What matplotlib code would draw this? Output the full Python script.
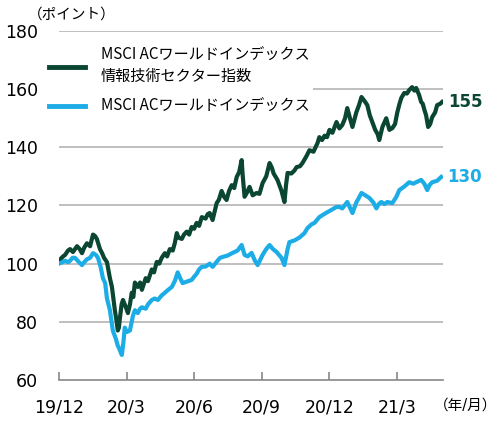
import matplotlib
matplotlib.use("Agg")
import matplotlib.pyplot as plt

plt.rcParams['font.family'] = ['DejaVu Sans', 'Noto Sans CJK JP']

# months since 2019/12 (x) and index values
it_months = [0.0, 0.18, 0.27, 0.40, 0.49, 0.62, 0.80, 0.92, 1.02, 1.12, 1.24, 1.38,
             1.51, 1.60, 1.68, 1.82, 1.92, 2.0, 2.13, 2.26, 2.35, 2.48, 2.56, 2.61,
             2.66, 2.70, 2.78, 2.84, 2.97, 3.06, 3.15, 3.23, 3.30, 3.37, 3.50, 3.60,
             3.68, 3.85, 3.95, 4.12, 4.22, 4.34, 4.45, 4.56, 4.70, 4.80, 4.92, 5.05,
             5.14, 5.23, 5.30, 5.45, 5.55, 5.67, 5.78, 5.89, 6.00, 6.11, 6.22, 6.34,
             6.51, 6.60, 6.69, 6.82, 7.00, 7.10, 7.22, 7.33, 7.44, 7.55, 7.67, 7.78,
             7.89, 8.00, 8.11, 8.16, 8.24, 8.35, 8.46, 8.60, 8.77, 8.90, 9.04, 9.20,
             9.35, 9.45, 9.53, 9.70, 9.88, 10.01, 10.08, 10.15, 10.32, 10.45, 10.55,
             10.70, 10.81, 10.99, 11.12, 11.30, 11.48, 11.56, 11.68, 11.79, 11.90,
             12.01, 12.14, 12.32, 12.45, 12.58, 12.70, 12.80, 12.92, 13.03, 13.20,
             13.32, 13.43, 13.56, 13.69, 13.80, 13.91, 14.04, 14.15, 14.22, 14.36,
             14.53, 14.67, 14.80, 14.92, 15.02, 15.12, 15.20, 15.33, 15.45, 15.55,
             15.68, 15.78, 15.86, 15.99, 16.08, 16.15, 16.22, 16.30, 16.39, 16.48,
             16.57, 16.70, 16.79, 16.93, 17.01]
it_values = [101, 102.5, 103, 104.5, 105, 104, 106, 105, 103.6, 105.5, 107, 106,
             110, 109.5, 108.5, 105, 103.5, 102, 100.5, 95, 92, 84, 80, 77,
             78, 81, 86, 87.5, 85, 83, 86, 90, 88.5, 93.5, 92, 93.5,
             91, 95, 94, 98, 97, 100.6, 100, 102, 103.6, 102.5, 105, 104.5,
             107, 110.5, 109, 108.5, 110, 111, 110, 112.6, 112, 114, 113, 116,
             115.5, 117, 117.4, 115, 120.8, 122, 125, 123, 121.9, 125, 127, 126,
             129.8, 131.5, 135.6, 130, 123, 124.5, 126.4, 123.5, 124.3, 124, 127.7, 130,
             134.6, 133, 131, 128.8, 125, 121.2, 127, 131.2, 131, 132, 133.2,
             133.5, 134.6, 137, 139, 138.5, 141.5, 143.5, 142.5, 144, 143.5,
             146, 145, 148.7, 146.5, 147.7, 150, 153.5, 150, 147, 152,
             154.5, 157.3, 156, 154.5, 151, 148.7, 146, 144.5, 142.5, 147,
             150, 146, 146.6, 148, 152, 155, 157, 158.7, 158.5, 159.7,
             160.7, 159.5, 160.4, 158, 155.6, 155, 153, 151, 147, 148,
             150.4, 152, 154.5, 155, 155.6]

acwi_months = [0.0, 0.15, 0.27, 0.40, 0.49, 0.60, 0.71, 0.89, 1.02, 1.12, 1.24, 1.38,
               1.51, 1.64, 1.73, 1.85, 1.95, 2.05, 2.13, 2.26, 2.39, 2.53, 2.60, 2.66,
               2.79, 2.86, 2.92, 3.01, 3.15, 3.28, 3.37, 3.50, 3.60, 3.68, 3.85, 3.95,
               4.12, 4.25, 4.39, 4.55, 4.70, 4.85, 5.01, 5.14, 5.27, 5.38, 5.49, 5.67,
               5.89, 6.00, 6.11, 6.22, 6.34, 6.51, 6.69, 6.82, 7.04, 7.15, 7.27, 7.49,
               7.71, 7.93, 8.02, 8.11, 8.24, 8.38, 8.55, 8.70, 8.82, 9.04, 9.20, 9.35,
               9.50, 9.66, 9.88, 10.01, 10.15, 10.23, 10.46, 10.68, 10.90, 11.03,
               11.21, 11.34, 11.56, 11.70, 11.87, 12.10, 12.32, 12.45, 12.58, 12.80,
               13.03, 13.20, 13.43, 13.60, 13.78, 13.96, 14.09, 14.20, 14.31, 14.45,
               14.58, 14.80, 14.98, 15.11, 15.33, 15.55, 15.73, 15.86, 16.08, 16.22,
               16.35, 16.45, 16.57, 16.79, 16.97]
acwi_values = [100, 100.5, 101, 100.5, 101, 102, 102, 100.5, 99.5, 100.5, 101.5, 102,
               103.6, 103, 102, 98.8, 95, 93.3, 88, 84, 77, 74, 72, 71,
               68.6, 73, 78, 76.5, 77, 82, 84, 83, 84.5, 85, 84.5, 86,
               87.5, 88, 87.5, 89, 90, 91, 92, 94, 97, 95, 93.3, 93.8,
               94.4, 95.5, 96.5, 98, 98.9, 99, 100, 98.9, 101, 102, 102.3, 102.8,
               103.7, 104.5, 105.5, 106.4, 103, 102.5, 103.7, 101, 99.5, 103, 105, 106.4,
               105, 104, 102, 99.5, 105, 107.4, 108, 109, 110.5, 112.2,
               113.5, 114, 116, 116.7, 117.5, 118.5, 119.5, 119.5, 119, 121.2,
               117.4, 121, 124.3, 123.5, 122.6, 121, 119, 120.5, 121.2, 120.5,
               121.2, 120.8, 123, 125.3, 126.5, 128, 127.5, 128, 128.8, 127.5,
               125.3, 127, 128, 128.5, 129.8]

tick_pos = [0, 3, 6, 9, 12, 15]
tick_labels = ['19/12', '20/3', '20/6', '20/9', '20/12', '21/3']
y_ticks = [60, 80, 100, 120, 140, 160, 180]

it_name = 'MSCI ACワールドインデックス\n情報技術セクター指数'
acwi_name = 'MSCI ACワールドインデックス'
dark = '#0a4631'
light = '#1cace6'

fig = plt.figure(figsize=(5, 4.25), dpi=100)
ax = fig.add_axes([0.118, 0.106, 0.768, 0.821])

for y in y_ticks[1:]:
    ax.axhline(y, color='#b4b4b4', lw=1.2, zorder=1)

l1, = ax.plot(it_months, it_values, color=dark, lw=3.0, zorder=3, solid_joinstyle='round')
l2, = ax.plot(acwi_months, acwi_values, color=light, lw=3.0, zorder=3, solid_joinstyle='round')

ax.set_xlim(0, 17.05)
ax.set_ylim(60, 180)
ax.set_yticks(y_ticks)
ax.set_xticks(tick_pos)
ax.set_xticklabels(tick_labels)
ax.tick_params(axis='y', length=0, pad=15, labelsize=12.5)
ax.tick_params(axis='x', direction='in', length=6, width=1.2, color='#888888',
               pad=13, labelsize=12.5)
for s in ['top', 'right', 'left']:
    ax.spines[s].set_visible(False)
ax.spines['bottom'].set_color('#888888')
ax.spines['bottom'].set_linewidth(1.2)

ax.text(it_months[-1] + 0.25, it_values[-1], '155', color=dark, fontsize=12,
        fontweight='bold', va='center', ha='left', clip_on=False)
ax.text(acwi_months[-1] + 0.25, acwi_values[-1], '130', color=light, fontsize=12,
        fontweight='bold', va='center', ha='left', clip_on=False)

leg = fig.legend([l1, l2], [it_name, acwi_name], loc='upper left',
                 bbox_to_anchor=(0.076, 0.914),
                 prop={'family': ['Noto Sans CJK JP'], 'size': 10.9},
                 frameon=True, facecolor='white', edgecolor='none', framealpha=1,
                 handlelength=2.4, handletextpad=1.05, labelspacing=0.85,
                 borderpad=0.2)
for h in leg.legend_handles:
    h.set_linewidth(3.5)
for t in leg.get_texts():
    t.set_linespacing(1.3)

fig.text(0.055, 0.968, '（ポイント）', fontsize=10.5, va='center', ha='left')
fig.text(0.995, 0.047, '（年/月）', fontsize=10.5, va='center', ha='right')

fig.savefig('out.png', dpi=100)
